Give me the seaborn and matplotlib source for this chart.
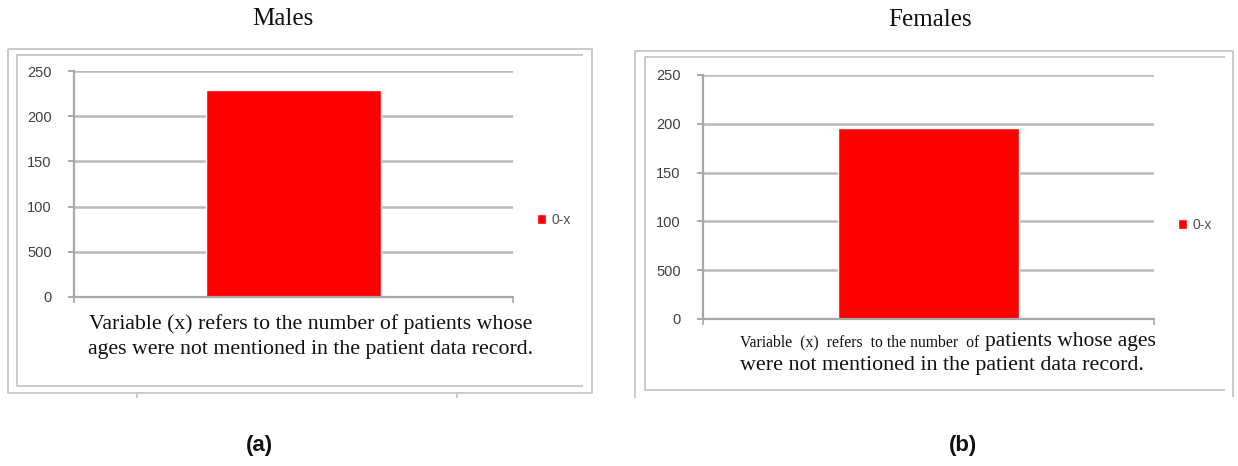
import matplotlib
matplotlib.use("Agg")
import matplotlib.pyplot as plt
from matplotlib.lines import Line2D
import pandas as pd
import seaborn as sns

# ---- data -------------------------------------------------------------
panel_titles = ["Males", "Females"]
panel_tags = ["(a)", "(b)"]
series_name = "0-x"
bar_values = [229, 196]
ytick_values = [0, 50, 100, 150, 200, 250]
ytick_labels = ["0", "500", "100", "150", "200", "250"]
note_left = ["Variable (x) refers to the number of patients whose",
             "ages were not mentioned in the patient data record."]
note_right_small = "Variable  (x)  refers  to the number  of "
note_right_big = "patients whose ages"
note_right_line2 = "were not mentioned in the patient data record."

BAR_RED = "#ff0000"
GRID = "#b9b9b9"
FRAME = "#c6c6c6"
TICK_TXT = "#404040"

sns.set_theme(style="white")
plt.rcParams["font.family"] = ["Liberation Sans", "DejaVu Sans"]

W, H = 1238, 466
fig = plt.figure(figsize=(W / 100, H / 100), dpi=100)


def fx(x):
    return x / W


def fy(y):
    return 1 - y / H


def frame_line(xs, ys):
    fig.add_artist(Line2D([fx(v) for v in xs], [fy(v) for v in ys],
                          transform=fig.transFigure, color=FRAME,
                          lw=1.3, solid_capstyle="butt"))


# chart frames (double border)
frame_line([8, 592, 592, 8, 8], [49, 49, 393, 393, 49])
frame_line([583, 17, 17, 583], [55, 55, 386, 386])
frame_line([137, 137], [393, 398])
frame_line([457, 457], [393, 398])
frame_line([635, 635, 1233, 1233], [398, 51, 51, 397])
frame_line([1225, 645, 645, 1225], [57, 57, 390, 390])

# axes rectangles in pixels: (x0, x1, y_top, y_bottom)
axes_px = [(74, 513, 71, 297), (703, 1154, 75, 319)]
legend_px = [(537, 220), (1178, 225)]
title_px = [(283, 19), (930, 20)]
tag_px = [(259, 446), (963, 446)]

for i, (x0, x1, yt, yb) in enumerate(axes_px):
    ax = fig.add_axes([fx(x0), fy(yb), fx(x1 - x0), (yb - yt) / H])
    df = pd.DataFrame({"series": [series_name], "count": [bar_values[i]]})
    sns.barplot(data=df, x="series", y="count", hue="series",
                palette={series_name: BAR_RED}, width=0.4, saturation=1,
                ax=ax, legend=True)
    ax.set_xlim(-0.5, 0.5)
    ax.set_ylim(0, 250)
    ax.set_yticks(ytick_values)
    ax.set_yticklabels(ytick_labels)
    ax.set_xticks([-0.5, 0.5])
    ax.set_xticklabels([])
    ax.set_xlabel("")
    ax.set_ylabel("")
    ax.yaxis.grid(True, color=GRID, lw=1.8)
    ax.set_axisbelow(True)
    for side in ["top", "right"]:
        ax.spines[side].set_visible(False)
    for side in ["left", "bottom"]:
        ax.spines[side].set_color("#a8a8a8")
        ax.spines[side].set_linewidth(1.6)
    ax.tick_params(axis="y", which="both", left=True, length=4, width=1.4,
                   color="#a8a8a8", pad=12, labelsize=10.5, labelcolor=TICK_TXT)
    ax.tick_params(axis="x", which="both", bottom=True, length=4, width=1.2,
                   color="#a8a8a8")
    ax.patch.set_alpha(0)

    lx, ly = legend_px[i]
    sns.move_legend(ax, "center left", bbox_to_anchor=(fx(lx), fy(ly)),
                    bbox_transform=fig.transFigure, frameon=False, title=None,
                    handlelength=0.65, handleheight=0.65, handletextpad=0.4,
                    borderpad=0, borderaxespad=0, fontsize=10,
                    labelcolor="#505050")

    tx, ty = title_px[i]
    fig.text(fx(tx), fy(ty), panel_titles[i], ha="center", va="center",
             fontsize=18, family="Liberation Serif", color="#111111")
    gx, gy = tag_px[i]
    fig.text(fx(gx), fy(gy), panel_tags[i], ha="center", va="center",
             fontsize=16, fontweight="bold", color="#111111")

# explanatory notes under each chart
fig.text(fx(311), fy(329), note_left[0], ha="center", va="baseline",
         fontsize=15.7, family="Liberation Serif", color="#111111")
fig.text(fx(311), fy(354), note_left[1], ha="center", va="baseline",
         fontsize=15.7, family="Liberation Serif", color="#111111")

t_small = fig.text(fx(740), fy(346), note_right_small, ha="left",
                   va="baseline", fontsize=11.3, family="Liberation Serif",
                   color="#111111")
fig.canvas.draw()
bb = t_small.get_window_extent(renderer=fig.canvas.get_renderer())
fig.text(bb.x1 / W + fx(2), fy(346), note_right_big, ha="left",
         va="baseline", fontsize=15.5, family="Liberation Serif",
         color="#111111")
fig.text(fx(740), fy(370), note_right_line2, ha="left", va="baseline",
         fontsize=15.8, family="Liberation Serif", color="#111111")

fig.savefig("out.png", dpi=100)
